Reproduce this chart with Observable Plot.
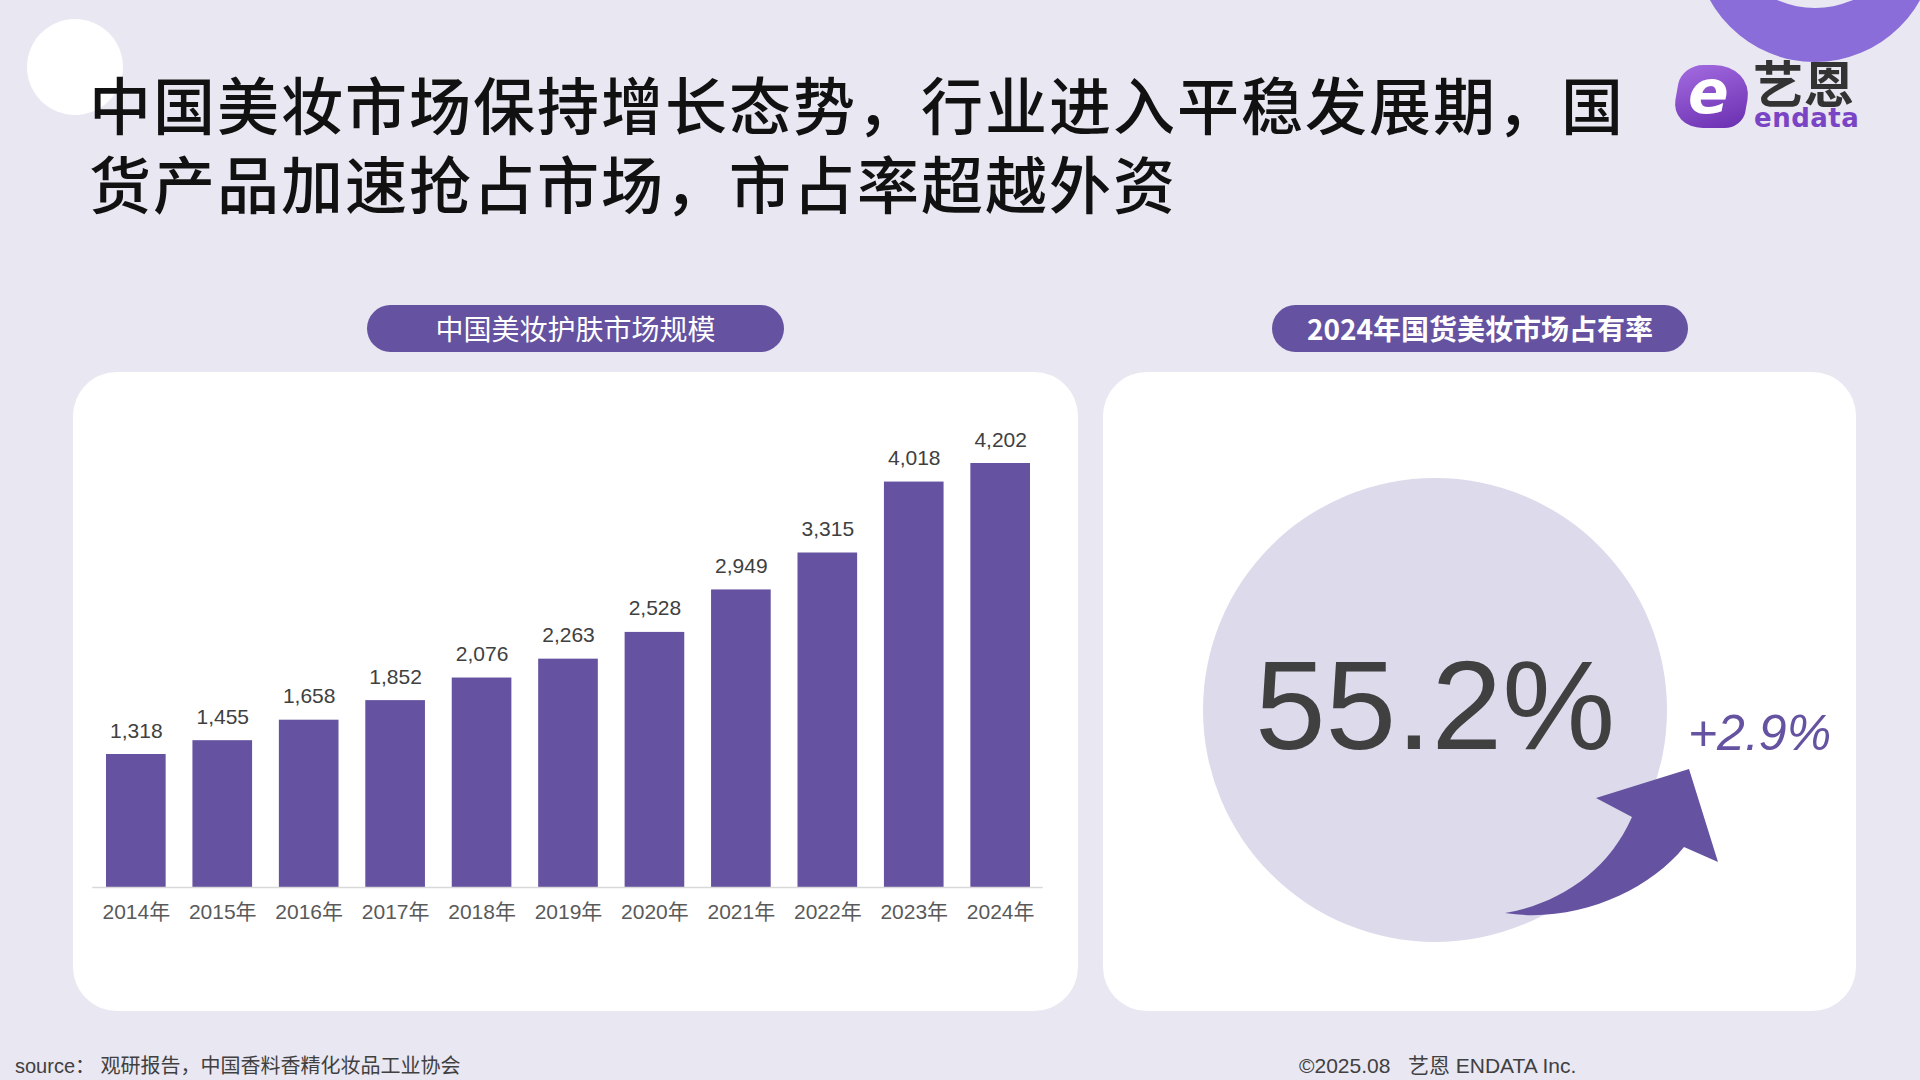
<!DOCTYPE html>
<html>
<head>
<meta charset="utf-8">
<script src="https://cdn.jsdelivr.net/npm/d3@7"></script>
<script src="https://cdn.jsdelivr.net/npm/@observablehq/plot@0.6"></script>
<style>
  html, body { margin: 0; padding: 0; }
  body { width: 1920px; height: 1080px; background: #E9E7F2; position: relative; overflow: hidden;
         font-family: "Noto Sans", "Noto Sans CJK SC", sans-serif; }
  .abs { position: absolute; }
  .title { left: 89px; font-family: "Noto Sans CJK SC", sans-serif; font-weight: 500;
           font-size: 62px; letter-spacing: 2px; line-height: 70px; height: 70px; color: #111; margin: 0; white-space: nowrap; }
  .pill { height: 47px; border-radius: 24px; background: #6552A0; color: #fff; text-align: center;
          line-height: 47px; font-size: 28px; font-family: "Noto Sans CJK SC", sans-serif; }
  .card { background: #fff; border-radius: 44px; }
  .foot { font-size: 20px; color: #404040; font-family: "Liberation Sans", "Noto Sans CJK SC", sans-serif; line-height: 24px; }
</style>
</head>
<body>
<div class="abs" style="left:27px;top:19px;width:96px;height:96px;border-radius:50%;background:#fff;"></div>
<div class="abs" style="left:1695px;top:-178px;width:240px;height:240px;border-radius:50%;background:#8A6DD8;"></div>
<div class="abs" style="left:1721px;top:-180px;width:188px;height:188px;border-radius:50%;background:#E9E7F2;"></div>

<div class="abs" style="left:1676px;top:65px;width:72px;height:63px;border-radius:30% 55% 25% 45%;transform:skewX(-10deg);
     background:linear-gradient(160deg,#A36BE0,#6A2FB0);"></div>
<div class="abs" style="left:1688px;top:57px;font-family:'DejaVu Sans',sans-serif;font-weight:bold;font-size:60px;color:#fff;font-style:italic;line-height:70px;">e</div>
<div class="abs" style="left:1753px;top:56px;font-family:'Noto Sans CJK SC',sans-serif;font-weight:700;font-size:50px;color:#333;line-height:50px;letter-spacing:1px;">艺恩</div>
<div class="abs" style="left:1754px;top:106px;font-family:'DejaVu Sans',sans-serif;font-weight:bold;font-size:26px;color:#7A45C4;line-height:24px;letter-spacing:0.5px;">endata</div>

<div class="abs title" style="top:68px;">中国美妆市场保持增长态势，行业进入平稳发展期，国</div>
<div class="abs title" style="top:147px;">货产品加速抢占市场，市占率超越外资</div>

<div class="abs pill" style="left:367px;top:305px;width:417px;">中国美妆护肤市场规模</div>
<div class="abs pill" style="left:1272px;top:305px;width:416px;font-weight:700;">2024年国货美妆市场占有率</div>

<div id="left" class="abs card" style="left:73px;top:372px;width:1005px;height:639px;"></div>
<div id="right" class="abs card" style="left:1103px;top:372px;width:753px;height:639px;"></div>

<div class="abs foot" style="left:15px;top:1054px;">source： 观研报告，中国香料香精化妆品工业协会</div>
<div class="abs foot" style="left:1299px;top:1054px;font-size:21px;">©2025.08&nbsp;&nbsp;&nbsp;艺恩 ENDATA Inc.</div>

<script>
const years = ["2014年","2015年","2016年","2017年","2018年","2019年","2020年","2021年","2022年","2023年","2024年"];
const marketSize = [1318, 1455, 1658, 1852, 2076, 2263, 2528, 2949, 3315, 4018, 4202];
const shareLabel = ["55.2%"];
const shareChange = ["+2.9%"];

const barData = years.map((y, i) => ({year: y, value: marketSize[i]}));
const fmt = d3.format(",");
const purple = "#6552A0";
const chartFont = "'Liberation Sans', 'Noto Sans CJK SC', sans-serif";

const left = Plot.plot({
  width: 1005,
  height: 639,
  marginLeft: 6.2,
  marginRight: 21.2,
  marginTop: 91,
  marginBottom: 124,
  style: {background: "transparent", fontFamily: chartFont},
  x: {domain: years, padding: 0.31, round: false, label: null},
  y: {domain: [0, d3.max(marketSize)], axis: null},
  marks: [
    Plot.barY(barData, {x: "year", y: "value", fill: purple}),
    Plot.ruleY([0], {stroke: "#D9D9D9", strokeWidth: 1.5, insetLeft: 13, insetRight: 14}),
    Plot.text(barData, {x: "year", y: "value", text: d => fmt(d.value), lineAnchor: "bottom", dy: -17,
                         fontSize: 21, fill: "#404040"}),
    Plot.axisX({tickSize: 0, tickPadding: 17, fontSize: 21, color: "#595959", label: null})
  ]
});
document.getElementById("left").appendChild(left);

const arrow = () => d3.create("svg:path")
    .attr("d", "M402,541 C470,552 545,520 581,475 L615,490 L586,397 L493,426 L529,445 C505,500 455,532 402,541 Z")
    .attr("fill", purple)
    .node();

const right = Plot.plot({
  width: 753,
  height: 639,
  marginLeft: 0,
  marginRight: 90,
  marginTop: 36,
  marginBottom: 0,
  style: {background: "transparent", overflow: "visible"},
  marks: [
    Plot.dot(shareLabel, {frameAnchor: "middle", r: 232, fill: "#DDDAEB", stroke: null}),
    arrow,
    Plot.text(shareLabel, {frameAnchor: "middle", text: d => d, fontSize: 127, fill: "#404040",
                           fontFamily: "'Liberation Sans', Arial, sans-serif", dy: -2}),
    Plot.text(shareChange, {frameAnchor: "middle", text: d => d, fontSize: 50, fill: purple, fontStyle: "italic",
                            fontFamily: "'Liberation Sans', Arial, sans-serif", dx: 324.5, dy: 24})
  ]
});
document.getElementById("right").appendChild(right);
</script>
</body>
</html>
